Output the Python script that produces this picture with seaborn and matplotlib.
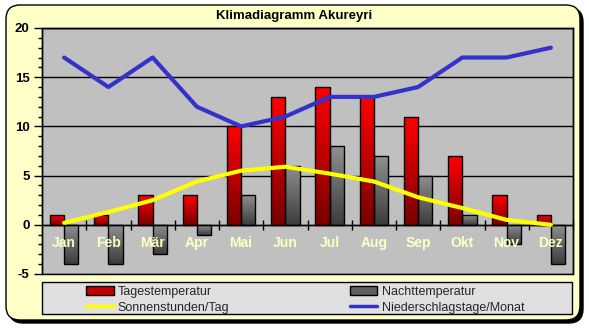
import numpy as np
import pandas as pd
import matplotlib
matplotlib.use("Agg")
import matplotlib.pyplot as plt
import seaborn as sns
from matplotlib.patches import FancyBboxPatch, Patch, Rectangle
from matplotlib.lines import Line2D
from matplotlib.colors import LinearSegmentedColormap
from matplotlib.transforms import IdentityTransform
from matplotlib.ticker import MultipleLocator, FixedLocator

# ---- data ----
monate = ["Jan", "Feb", "Mär", "Apr", "Mai", "Jun", "Jul", "Aug", "Sep", "Okt", "Nov", "Dez"]
tagestemp = [1, 1, 3, 3, 10, 13, 14, 13, 11, 7, 3, 1]
nachttemp = [-4, -4, -3, -1, 3, 6, 8, 7, 5, 1, -2, -4]
sonnenstunden = [0.2, 1.3, 2.5, 4.4, 5.5, 5.9, 5.2, 4.4, 2.8, 1.7, 0.5, 0.0]
niederschlagstage = [17, 14, 17, 12, 10, 11, 13, 13, 14, 17, 17, 18]
yticks = [-5, 0, 5, 10, 15, 20]
title = "Klimadiagramm Akureyri"
s_tag = "Tagestemperatur"
s_nacht = "Nachttemperatur"
s_sonne = "Sonnenstunden/Tag"
s_nieder = "Niederschlagstage/Monat"

sns.set_theme(style="white")
plt.rcParams["font.family"] = ["Liberation Sans", "DejaVu Sans"]
plt.rcParams["axes.unicode_minus"] = False

W, H = 589, 330
fig = plt.figure(figsize=(W / 100, H / 100), dpi=100)
fig.patch.set_facecolor("white")

# panel with shadow (pixel coordinates)
shadow = FancyBboxPatch((9, 7), 574, 315, boxstyle="round,pad=0,rounding_size=14",
                        transform=IdentityTransform(), facecolor="black", edgecolor="black", zorder=0)
panel = FancyBboxPatch((6, 10), 574, 315, boxstyle="round,pad=0,rounding_size=14",
                       transform=IdentityTransform(), facecolor="#FFFFC8", edgecolor="black",
                       linewidth=1, zorder=0.5)
legbox = Rectangle((42, 16), 530, 32, transform=IdentityTransform(),
                   facecolor="#E0E0E0", edgecolor="black", linewidth=1, zorder=0.8)
fig.patches.extend([shadow, panel, legbox])

ax = fig.add_axes([42 / W, 1 - 274 / H, (573 - 42) / W, (274 - 28) / H])
ax.set_zorder(2)

df = pd.DataFrame({
    "Monat": monate * 2,
    "Wert": tagestemp + nachttemp,
    "Serie": [s_tag] * 12 + [s_nacht] * 12,
})
sns.barplot(data=df, x="Monat", y="Wert", hue="Serie", order=monate,
            hue_order=[s_tag, s_nacht], palette=["#E00000", "#707070"],
            width=0.64, dodge=True, legend=False, ax=ax, saturation=1)

cmaps = {
    0: LinearSegmentedColormap.from_list("r", ["#FF0000", "#780000"]),
    1: LinearSegmentedColormap.from_list("g", ["#909090", "#3C3C3C"]),
}
grad = np.linspace(0, 1, 256).reshape(-1, 1)
for ci, cont in enumerate(ax.containers):
    for p in cont.patches:
        x0, y0 = p.get_x(), p.get_y()
        w, h = p.get_width(), p.get_height()
        ylo, yhi = min(y0, y0 + h), max(y0, y0 + h)
        im = ax.imshow(grad, cmap=cmaps[ci], extent=[x0, x0 + w, ylo, yhi],
                       aspect="auto", origin="upper", zorder=2.5, interpolation="bilinear")
        im.set_clip_path(p)
        p.set_facecolor("none")
        p.set_edgecolor("black")
        p.set_linewidth(1.0)
        p.set_zorder(2.6)

xpos = np.arange(len(monate))
sns.lineplot(x=xpos, y=sonnenstunden, color="#FFFF00", linewidth=3, ax=ax, zorder=4, sort=False)
sns.lineplot(x=xpos, y=niederschlagstage, color="#3333CC", linewidth=3, ax=ax, zorder=4, sort=False)

ax.set_xlim(-0.5, len(monate) - 0.5)
ax.set_ylim(yticks[0], yticks[-1])
ax.set_facecolor("#C0C0C0")
ax.patch.set_edgecolor("black")
ax.patch.set_linewidth(1.0)

for s in ["left", "right", "top"]:
    ax.spines[s].set_visible(True)
    ax.spines[s].set_color("black")
    ax.spines[s].set_linewidth(1.0)
ax.spines["bottom"].set_position(("data", 0))
ax.spines["bottom"].set_color("black")
ax.spines["bottom"].set_linewidth(1.0)
ax.spines["bottom"].set_zorder(3)

ax.yaxis.set_major_locator(FixedLocator(yticks))
ax.yaxis.set_minor_locator(MultipleLocator(1))
ax.tick_params(axis="y", which="major", direction="out", length=6, width=1, color="black",
               left=True, labelsize=9.5, pad=3, labelcolor="black")
ax.tick_params(axis="y", which="minor", direction="out", length=3, width=1, color="black", left=True)
for lab in ax.get_yticklabels():
    lab.set_fontweight("bold")
ax.yaxis.grid(True, which="major", color="black", linewidth=1.0)
ax.xaxis.grid(False)
ax.set_axisbelow(True)

ax.xaxis.set_major_locator(FixedLocator(np.arange(len(monate)) + 0.5))
ax.tick_params(axis="x", which="major", direction="inout", length=7, width=1, color="black",
               bottom=True, labelbottom=False)
ax.set_xlabel("")
ax.set_ylabel("")
for i, m in enumerate(monate):
    ax.text(i, -1.9, m, ha="center", va="center", color="#FFFFC0", fontsize=10,
            fontweight="bold", zorder=5)

fig.text(294 / W, 1 - 16 / H, title, ha="center", va="center", fontsize=9.5, fontweight="bold",
         color="black")

leg_kw = dict(loc="center left", frameon=False, fontsize=9, handlelength=2.2, handleheight=0.75,
              handletextpad=0.35, labelspacing=0.28, borderpad=0, borderaxespad=0)
h1 = [Patch(facecolor="#C00000", edgecolor="black", linewidth=1),
      Line2D([], [], color="#FFFF00", linewidth=2.5)]
h2 = [Patch(facecolor="#606060", edgecolor="black", linewidth=1),
      Line2D([], [], color="#3333CC", linewidth=2.5)]
leg1 = fig.legend(h1, [s_tag, s_sonne], bbox_to_anchor=(86 / W, 1 - 300 / H), **leg_kw)
leg2 = fig.legend(h2, [s_nacht, s_nieder], bbox_to_anchor=(350 / W, 1 - 300 / H), **leg_kw)
for lg in (leg1, leg2):
    lg.set_zorder(3)

fig.savefig("out.png", dpi=100)
